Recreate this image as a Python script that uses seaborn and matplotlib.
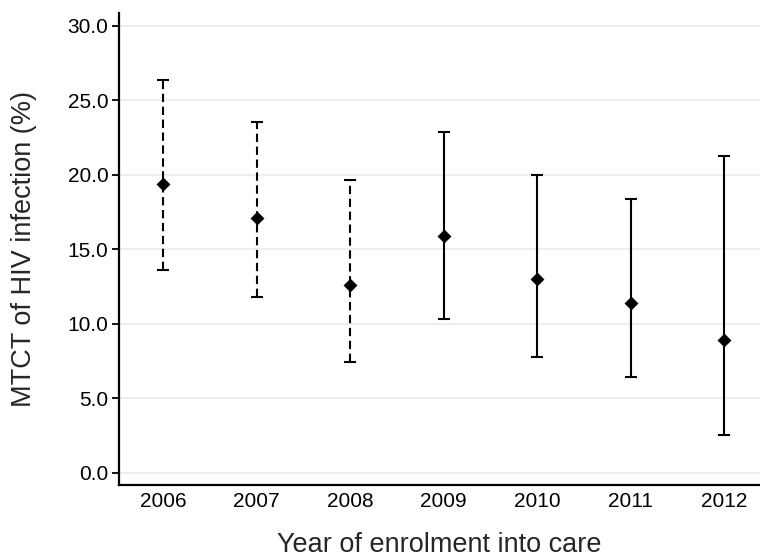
import numpy as np
import pandas as pd
import seaborn as sns
import matplotlib.pyplot as plt

# дані
years = [2006, 2007, 2008, 2009, 2010, 2011, 2012]
mtct = [19.4, 17.1, 12.6, 15.9, 13.0, 11.4, 8.9]
ci_low = [13.6, 11.8, 7.4, 10.35, 7.8, 6.4, 2.5]
ci_high = [26.35, 23.55, 19.65, 22.85, 20.0, 18.4, 21.25]
yticks = [0, 5, 10, 15, 20, 25, 30]

df = pd.DataFrame({'year': years, 'mtct': mtct, 'lo': ci_low, 'hi': ci_high})
df['period'] = np.where(df['year'] <= 2008, 'early', 'late')

sns.set_style('white')
plt.rcParams['font.family'] = ['Liberation Sans', 'DejaVu Sans']

fig = plt.figure(figsize=(7.6, 5.58), dpi=100)
ax = fig.add_axes([0.1566, 0.1308, 0.8434, 0.8459])

for period, ls in [('early', (0, (4, 2.2))), ('late', '-')]:
    d = df[df['period'] == period]
    eb = ax.errorbar(d['year'], d['mtct'],
                     yerr=[d['mtct'] - d['lo'], d['hi'] - d['mtct']],
                     fmt='none', ecolor='black', elinewidth=1.5,
                     capsize=4.5, capthick=1.5, zorder=2)
    eb[2][0].set_linestyle(ls)

sns.scatterplot(data=df, x='year', y='mtct', marker='D', s=50, color='black',
                edgecolor='black', linewidth=0, zorder=3, ax=ax, legend=False)

ax.set_xlim(2005.53, 2012.38)
ax.set_ylim(-0.83, 30.87)
ax.set_yticks(yticks)
ax.set_yticklabels([f'{v:.1f}' for v in yticks])
ax.set_xticks(years)
ax.set_xticklabels([str(y) for y in years])

ax.yaxis.grid(True, color='#e9eff3', linewidth=1.5)
ax.xaxis.grid(False)
ax.set_axisbelow(True)

for s in ['top', 'right']:
    ax.spines[s].set_visible(False)
for s in ['left', 'bottom']:
    ax.spines[s].set_color('black')
    ax.spines[s].set_linewidth(1.6)

ax.tick_params(axis='y', which='major', left=True, length=5, width=1.3,
               color='black', pad=2.5, labelsize=15, labelcolor='black')
ax.tick_params(axis='x', which='major', bottom=False, length=0, pad=5,
               labelsize=15, labelcolor='black')

ax.set_xlabel('Year of enrolment into care', fontsize=19.5, va='baseline')
ax.xaxis.set_label_coords(0.5, -0.142)
ax.set_ylabel('MTCT of HIV infection (%)', fontsize=19.5)
ax.yaxis.set_label_coords(-0.128, 0.5)

plt.savefig('out.png', dpi=100)
